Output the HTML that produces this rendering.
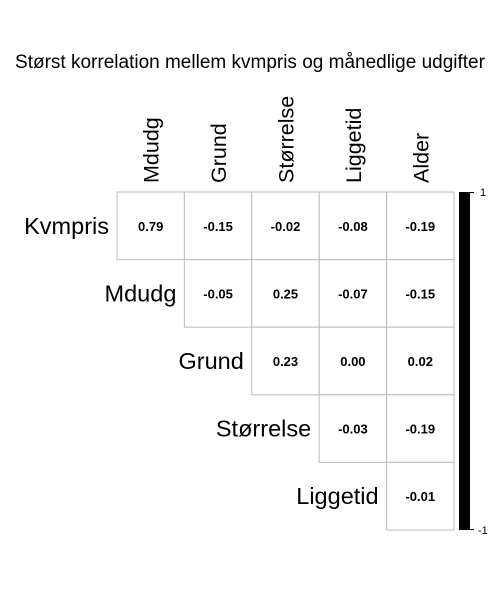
<!DOCTYPE html>
<html><head><meta charset="utf-8"><style>body{margin:0;background:#fff}svg{display:block}</style></head>
<body>
<svg width="500" height="600" xmlns="http://www.w3.org/2000/svg" font-family="Liberation Sans, sans-serif">
<text x="250" y="68" text-anchor="middle" font-size="19">Størst korrelation mellem kvmpris og månedlige udgifter</text>
<g id="g"></g>
<rect x="459" y="192" width="11" height="338" fill="#000"/>
<line x1="459" y1="192.5" x2="474" y2="192.5" stroke="#000"/>
<line x1="459" y1="529.5" x2="474" y2="529.5" stroke="#000"/>
<text x="480" y="196" font-size="11">1</text>
<text x="478" y="534" font-size="11">-1</text>
</svg>
<script>
const rowLabels=["Kvmpris","Mdudg","Grund","Størrelse","Liggetid"];
const colLabels=["Mdudg","Grund","Størrelse","Liggetid","Alder"];
const values=[
[0.79,-0.15,-0.02,-0.08,-0.19],
[null,-0.05,0.25,-0.07,-0.15],
[null,null,0.23,0.00,0.02],
[null,null,null,-0.03,-0.19],
[null,null,null,null,-0.01]];
const x0=117,y0=192,cw=67.4,ch=67.6;
const g=document.getElementById('g');
const NS='http://www.w3.org/2000/svg';
function mk(t,a){const e=document.createElementNS(NS,t);for(const k in a)e.setAttribute(k,a[k]);g.appendChild(e);return e;}
colLabels.forEach((l,j)=>{
 const cx=x0+cw*(j+0.5);
 const t=mk('text',{x:0,y:0,'font-size':21.5,transform:`translate(${cx+8},183) rotate(-90)`});
 
 
 t.textContent=l;
});
rowLabels.forEach((l,i)=>{
 const t=mk('text',{x:x0+cw*i-8,y:y0+ch*(i+0.5)+8,'font-size':23.5,'text-anchor':'end'});
 
 
 t.textContent=l;
 values[i].forEach((v,j)=>{
  if(v===null)return;
  const r=mk('rect',{x:x0+cw*j,y:y0+ch*i,width:cw,height:ch,fill:'#fff',stroke:'#bbb','stroke-width':1});
  
  
  const vt=mk('text',{x:x0+cw*(j+0.5),y:y0+ch*(i+0.5)+5,'font-size':13,'font-weight':'bold','text-anchor':'middle'});
  
  
  vt.textContent=v.toFixed(2);
 });
});
</script>
</body></html>
